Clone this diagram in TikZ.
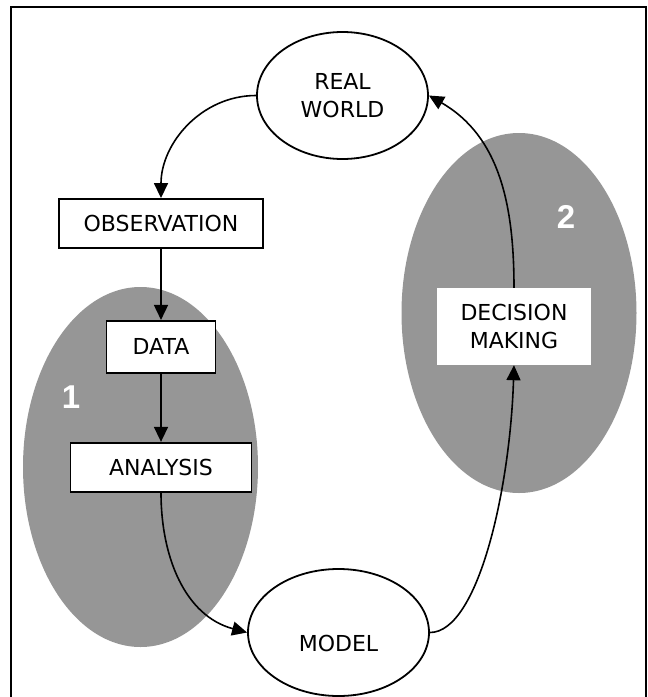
\documentclass[tikz,border=0pt]{standalone}
\usepackage{fontspec}
\setmainfont{DejaVu Sans}
\newfontfamily\numfont{Liberation Sans}
\usepackage{tikz}
\usetikzlibrary{arrows.meta,positioning,shapes.geometric}
\definecolor{zonegray}{RGB}{150,150,150}
\tikzset{
  box/.style={draw, line width=1.9pt, fill=white, minimum height=49pt, inner sep=2pt, font=\fontsize{22}{28}\selectfont},
  oval/.style={draw, ellipse, line width=1.8pt, fill=white, minimum width=171pt, minimum height=127pt, align=center, font=\fontsize{22}{28}\selectfont},
  zone/.style={ellipse, fill=zonegray, minimum width=235pt, minimum height=360pt},
  num/.style={text=white, font=\numfont\bfseries\fontsize{33}{33}\selectfont},
  edge/.style={-{Triangle[length=15pt,width=14pt]}, line width=1.6pt}
}

\begin{document}
\begin{tikzpicture}[x=1pt, y=-1pt]
    \clip (0,0) rectangle (648,697);
    % outer frame, open at the bottom
    \draw[line width=2.2pt] (11,720) -- (11,7) -- (646,7) -- (646,720);

    % shaded zones
    \node[zone] (zone1) at (140.5,467) {};
    \node[zone] (zone2) at (519,313) {};
    \node[num] (num1) at (71,397) {1};
    \node[num] (num2) at (566,217) {2};

    % Nodes
    \node[oval] (real) at (342.5,95.5) {REAL\\WORLD};
    \node[box, minimum width=204pt] (obs) at (161,223.5) {OBSERVATION};
    \node[box, minimum width=109pt, minimum height=52pt, below=71pt of obs] (data) {DATA};
    \node[box, minimum width=181pt, below=68pt of data] (anal) {ANALYSIS};
    \node[oval, minimum width=181pt, text height=38pt, text depth=0pt] (model) at (338.5,632.5) {MODEL};
    \node[fill=white, minimum width=154pt, minimum height=77pt, align=center, font=\fontsize{22}{28}\selectfont] (decide) at (514,326.5) {DECISION\\MAKING};

    % Edges
    \draw[edge] (real.west) to[out=180, in=90] (obs.north);
    \draw[edge] (obs) -- (data);
    \draw[edge] (data) -- (anal);
    \draw[edge] (anal.south) to[out=-90, in=165] (model.west);
    \draw[edge] (model.east) .. controls +(48,0) and +(-4,125) .. (decide.south);
    \draw[edge] (decide.north) to[out=90, in=-30] (real.east);
\end{tikzpicture}
\end{document}
